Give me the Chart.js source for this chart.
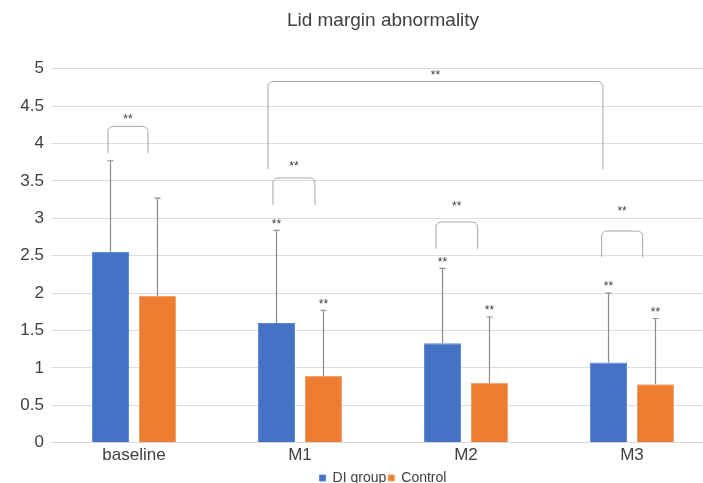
<!DOCTYPE html>
<html>
<head>
<meta charset="utf-8">
<script src="https://cdn.jsdelivr.net/npm/chart.js@4"></script>
<style>
  html, body { margin: 0; padding: 0; background: #fff; overflow: hidden; }
</style>
</head>
<body>
<canvas id="lidChart" width="756" height="483"></canvas>
<script>
// data
const categories = ["baseline", "M1", "M2", "M3"];
const diGroup = [2.55, 1.60, 1.33, 1.07];
const control = [1.96, 0.89, 0.80, 0.78];
const diSD = [1.22, 1.24, 1.00, 0.93];
const controlSD = [1.31, 0.88, 0.88, 0.88];
// which bars carry a "**" over the error bar
const diStar = [false, true, true, true];
const controlStar = [false, true, true, true];

// significance brackets, in category units (x) and value units (y)
const bracketFrom = [-0.157, 0.837, 1.819, 2.817, 0.807];
const bracketTo = [0.084, 1.09, 2.07, 3.064, 2.825];
const bracketTop = [4.23, 3.54, 2.95, 2.83, 4.83];
const bracketBottom = [3.87, 3.18, 2.59, 2.48, 3.66];
const bracketLabelY = [4.32, 3.69, 3.16, 3.09, 4.91];

const font = "'Liberation Sans', Arial, sans-serif";

// error bars + stars above each bar
const errorBars = {
  id: "errorBars",
  afterDatasetsDraw(chart) {
    const ctx = chart.ctx;
    const y = chart.scales.y;
    const sds = [diSD, controlSD];
    const stars = [diStar, controlStar];
    ctx.save();
    chart.data.datasets.forEach((ds, di) => {
      chart.getDatasetMeta(di).data.forEach((bar, i) => {
        const top = y.getPixelForValue(ds.data[i] + sds[di][i]);
        ctx.strokeStyle = "#8c8c8c";
        ctx.lineWidth = 1.2;
        ctx.beginPath();
        ctx.moveTo(bar.x, bar.y);
        ctx.lineTo(bar.x, top);
        ctx.moveTo(bar.x - 3, top);
        ctx.lineTo(bar.x + 3, top);
        ctx.stroke();
        if (stars[di][i]) {
          ctx.fillStyle = "#404040";
          ctx.font = "12px " + font;
          ctx.textAlign = "center";
          ctx.textBaseline = "middle";
          ctx.fillText("**", bar.x, top - 6);
        }
      });
    });
    ctx.restore();
  }
};

// brackets with "**" labels
const brackets = {
  id: "brackets",
  afterDatasetsDraw(chart) {
    const ctx = chart.ctx;
    const x = chart.scales.x;
    const y = chart.scales.y;
    const step = x.getPixelForValue(1) - x.getPixelForValue(0);
    const px = v => x.getPixelForValue(0) + v * step;
    ctx.save();
    ctx.strokeStyle = "#a6a6a6";
    ctx.lineWidth = 1;
    for (let k = 0; k < bracketFrom.length; k++) {
      const x1 = px(bracketFrom[k]), x2 = px(bracketTo[k]);
      const yt = y.getPixelForValue(bracketTop[k]);
      const yb = y.getPixelForValue(bracketBottom[k]);
      ctx.beginPath();
      ctx.moveTo(x1, yb);
      ctx.arcTo(x1, yt, x2, yt, 5);
      ctx.arcTo(x2, yt, x2, yb, 5);
      ctx.lineTo(x2, yb);
      ctx.stroke();
      ctx.fillStyle = "#404040";
      ctx.font = "12px " + font;
      ctx.textAlign = "center";
      ctx.textBaseline = "middle";
      ctx.fillText("**", (x1 + x2) / 2, y.getPixelForValue(bracketLabelY[k]));
    }
    ctx.restore();
  }
};

new Chart(document.getElementById("lidChart"), {
  type: "bar",
  data: {
    labels: categories,
    datasets: [
      { label: "DI group", data: diGroup, backgroundColor: "#4472c4", borderColor: "#5b8ad6", borderWidth: 1 },
      { label: "Control", data: control, backgroundColor: "#ed7d31", borderColor: "#f2a06a", borderWidth: 1 }
    ]
  },
  options: {
    responsive: false,
    animation: false,
    categoryPercentage: 0.566,
    barPercentage: 0.787,
    layout: { padding: { left: 0, right: 41, top: 4, bottom: -12 } },
    plugins: {
      title: {
        display: true,
        fullSize: false,
        text: "Lid margin abnormality",
        color: "#404040",
        font: { family: font, size: 19, weight: "normal" },
        padding: { top: 5, bottom: 37 }
      },
      legend: {
        position: "bottom",
        fullSize: false,
        labels: {
          color: "#404040",
          font: { family: font, size: 14 },
          boxWidth: 6,
          boxHeight: 6,
          padding: 2
        }
      },
      tooltip: { enabled: false }
    },
    scales: {
      x: {
        grid: { display: false, drawTicks: false, tickLength: 0 },
        border: { color: "#d9d9d9" },
        ticks: { color: "#404040", font: { family: font, size: 17 }, padding: 3 }
      },
      y: {
        min: 0,
        max: 5,
        afterFit: s => { s.width = 51; },
        border: { display: false },
        grid: { color: "#dcdcdc", drawTicks: false },
        ticks: {
          stepSize: 0.5,
          color: "#404040",
          font: { family: font, size: 17 },
          padding: 7,
          callback: v => String(v)
        }
      }
    }
  },
  plugins: [errorBars, brackets]
});
</script>
</body>
</html>
